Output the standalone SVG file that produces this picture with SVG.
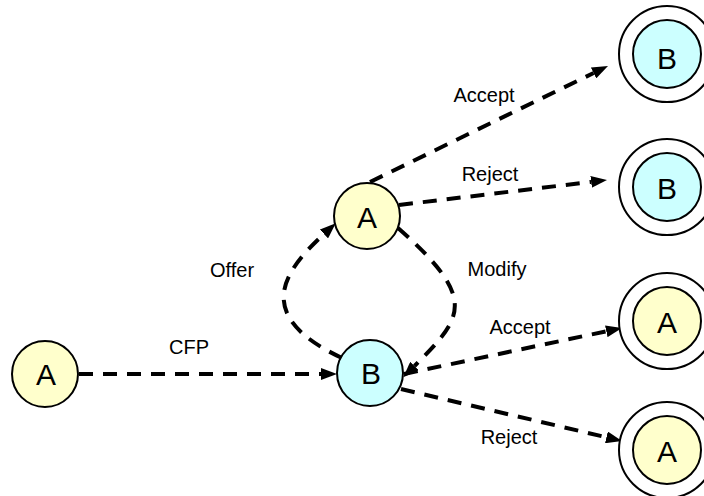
<svg xmlns="http://www.w3.org/2000/svg" width="704" height="496" viewBox="0 0 704 496">
<style>
.n circle{stroke:#000;stroke-width:2}
.ya{fill:#FFFFCC}
.cb{fill:#CCFFFF}
.ring{fill:#fff}
.nl{font-family:"Liberation Sans",Arial,sans-serif;font-size:30px;text-anchor:middle;fill:#000}
.el{font-family:"Liberation Sans",Arial,sans-serif;font-size:20px;text-anchor:middle;fill:#000}
.e{fill:none;stroke:#000;stroke-width:4;stroke-dasharray:14 10;marker-end:url(#ah)}
</style>
<defs>
<marker id="ah" viewBox="0 0 16 12" refX="0" refY="6" markerWidth="16" markerHeight="12" markerUnits="userSpaceOnUse" orient="auto">
<path d="M0,0 L16,6 L0,12 z" fill="#000"/>
</marker>
</defs>
<g id="edges">
<path class="e" d="M79,374 L321,374"/>
<path class="e" d="M342,358 C250,315 285,270 324,234"/>
<path class="e" d="M398,228 C480,300 462,318 414.5,366"/>
<path class="e" d="M370,182 L593.6,73"/>
<path class="e" d="M399,205 L591.1,181.9"/>
<path class="e" d="M404,374 L606.3,331.3"/>
<path class="e" d="M401,389 L606.4,437.3"/>
<text class="el" x="189" y="354">CFP</text>
<text class="el" x="232" y="277">Offer</text>
<text class="el" x="497" y="276">Modify</text>
<text class="el" x="484" y="102">Accept</text>
<text class="el" x="490" y="181">Reject</text>
<text class="el" x="520" y="334">Accept</text>
<text class="el" x="509" y="444">Reject</text>
</g>
<g id="start_A" class="n"><circle class="ya" cx="45" cy="374" r="33"/><text class="nl" x="46" y="385">A</text></g>
<g id="mid_A" class="n"><circle class="ya" cx="367" cy="216" r="33"/><text class="nl" x="367" y="228">A</text></g>
<g id="mid_B" class="n"><circle class="cb" cx="370" cy="373" r="33"/><text class="nl" x="371" y="384">B</text></g>
<g id="end_B1" class="n"><circle class="ring" cx="667" cy="54" r="48"/><circle class="cb" cx="667" cy="54" r="34"/><text class="nl" x="667" y="69">B</text></g>
<g id="end_B2" class="n"><circle class="ring" cx="667" cy="187" r="48"/><circle class="cb" cx="667" cy="187" r="34"/><text class="nl" x="667" y="199">B</text></g>
<g id="end_A3" class="n"><circle class="ring" cx="667" cy="321" r="48"/><circle class="ya" cx="667" cy="321" r="34"/><text class="nl" x="667" y="333">A</text></g>
<g id="end_A4" class="n"><circle class="ring" cx="667" cy="450" r="48"/><circle class="ya" cx="667" cy="450" r="34"/><text class="nl" x="667" y="462">A</text></g>
</svg>
